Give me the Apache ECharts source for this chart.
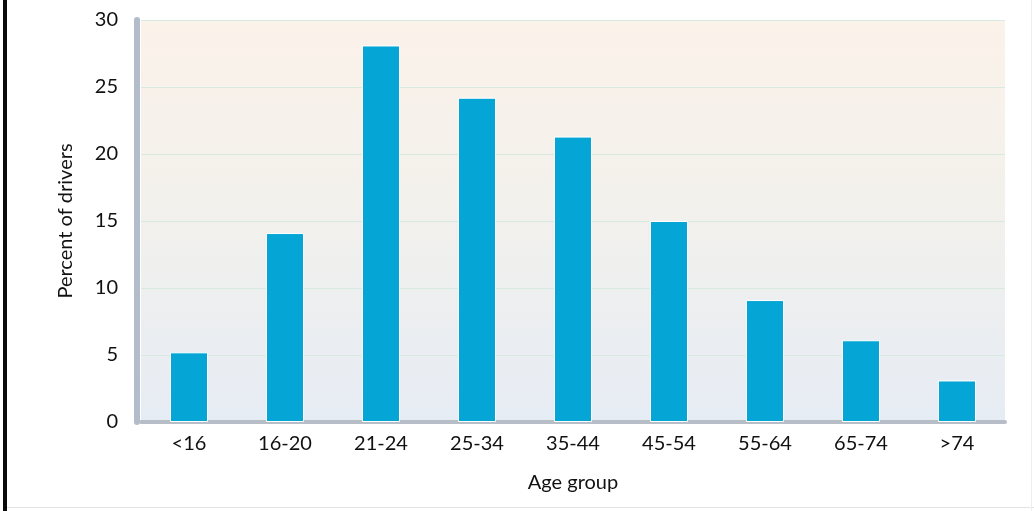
<!DOCTYPE html>
<html>
<head>
<meta charset="utf-8">
<style>
  html, body { margin: 0; padding: 0; background: #ffffff; }
  #chart { width: 1034px; height: 511px; }
</style>
<script src="https://cdn.jsdelivr.net/npm/echarts@6/dist/echarts.min.js"></script>
</head>
<body>
<div id="chart"></div>
<script>
// Share of drivers by age group (percent)
const ageGroups = ['<16', '16-20', '21-24', '25-34', '35-44', '45-54', '55-64', '65-74', '>74'];
const percentDrivers = [5.2, 14.1, 28.1, 24.2, 21.3, 15.0, 9.1, 6.1, 3.1];
const yTicks = { min: 0, max: 30, step: 5 };

const chart = echarts.init(document.getElementById('chart'), null, { renderer: 'canvas' });

const labelFont = 'Lato, "Open Sans", sans-serif';

chart.setOption({
  backgroundColor: '#ffffff',
  animation: false,
  grid: {
    left: 141, right: 29, top: 20, bottom: 89,
    show: true,
    borderWidth: 0,
    backgroundColor: new echarts.graphic.LinearGradient(0, 0, 0, 1, [
      { offset: 0, color: '#fbf2ea' },
      { offset: 0.45, color: '#f3f1ec' },
      { offset: 1, color: '#e6ecf4' }
    ])
  },
  xAxis: {
    type: 'category',
    data: ageGroups,
    offset: 4,
    axisLine: { show: true, lineStyle: { color: '#b8bec8', width: 4 } },
    axisTick: { show: false },
    axisLabel: { color: '#111111', fontSize: 20, fontFamily: labelFont, margin: 8 },
    name: 'Age group',
    nameLocation: 'middle',
    nameGap: 47,
    nameTextStyle: { color: '#111111', fontSize: 20, fontFamily: labelFont }
  },
  yAxis: {
    type: 'value',
    min: yTicks.min,
    max: yTicks.max,
    interval: yTicks.step,
    offset: 4,
    axisLine: { show: true, lineStyle: { color: '#b3bccb', width: 6 } },
    axisTick: { show: false },
    splitLine: { show: true, lineStyle: { color: '#d8eae0', width: 1 } },
    axisLabel: { color: '#111111', fontSize: 20, fontFamily: labelFont, margin: 19 },
    name: 'Percent of drivers',
    nameLocation: 'middle',
    nameGap: 61,
    nameTextStyle: { color: '#111111', fontSize: 20, fontFamily: labelFont }
  },
  series: [{
    type: 'bar',
    data: percentDrivers,
    barWidth: 38,
    itemStyle: { color: '#05a6d6', borderColor: '#ffffff', borderWidth: 1 }
  }],
  graphic: [
    // black rule down the left edge of the figure
    { type: 'rect', left: 3, top: 0, shape: { width: 4, height: 511 }, style: { fill: '#0a0a0a' } },
    // thin frame along the bottom and right edges
    { type: 'rect', left: 7, top: 507, shape: { width: 1027, height: 1 }, style: { fill: '#e4e4e4' } },
    { type: 'rect', left: 1031, top: 0, shape: { width: 1, height: 511 }, style: { fill: '#efefef' } }
  ]
});
</script>
</body>
</html>
